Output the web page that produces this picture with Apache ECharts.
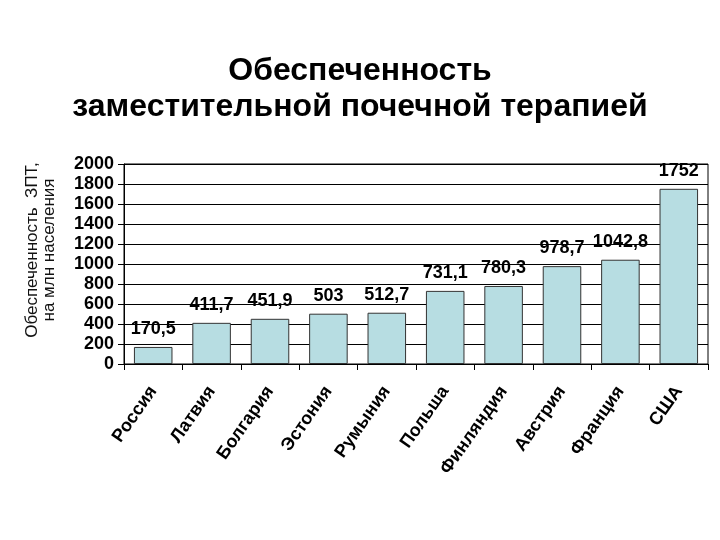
<!DOCTYPE html>
<html>
<head>
<meta charset="utf-8">
<script src="https://cdn.jsdelivr.net/npm/echarts@6/dist/echarts.min.js"></script>
<style>
	html, body { margin: 0; padding: 0; background: #fff; }
	#main { width: 720px; height: 540px; }
</style>
</head>
<body>
<div id="main"></div>
<script>
var countries = ['Россия', 'Латвия', 'Болгария', 'Эстония', 'Румыния', 'Польша', 'Финляндия', 'Австрия', 'Франция', 'США'];
var values = [170.5, 411.7, 451.9, 503, 512.7, 731.1, 780.3, 978.7, 1042.8, 1752];
var labels = ['170,5', '411,7', '451,9', '503', '512,7', '731,1', '780,3', '978,7', '1042,8', '1752'];

window.onload = function () {
	var myChart = echarts.init(document.getElementById('main'));

	var option = {
		backgroundColor: '#fff',
		title: {
			text: 'Обеспеченность\nзаместительной почечной терапией',
			left: 'center',
			top: 48,
			textStyle: {
				color: '#000',
				fontFamily: 'Liberation Sans',
				fontWeight: 'bold',
				fontSize: 32,
				lineHeight: 36
			}
		},
		grid: {
			left: 124,
			right: 12,
			top: 164,
			bottom: 176,
			show: true,
			borderColor: '#000',
			borderWidth: 1
		},
		xAxis: {
			type: 'category',
			data: countries,
			axisLine: { lineStyle: { color: '#000', width: 1 } },
			axisTick: { show: true, length: 6, lineStyle: { color: '#000' } },
			axisLabel: {
				rotate: 55,
				margin: 24,
				color: '#000',
				fontFamily: 'Liberation Sans',
				fontWeight: 'bold',
				fontSize: 18
			}
		},
		yAxis: {
			type: 'value',
			min: 0,
			max: 2000,
			interval: 200,
			name: 'Обеспеченность  ЗПТ,\nна млн населения',
			nameLocation: 'middle',
			nameRotate: 90,
			nameGap: 66,
			nameTextStyle: {
				color: '#111',
				fontFamily: 'Liberation Sans',
				fontSize: 17,
				lineHeight: 17,
				padding: [0, 0, 0, 28]
			},
			axisLine: { show: true, lineStyle: { color: '#000', width: 1 } },
			axisTick: { show: true, length: 6, lineStyle: { color: '#000' } },
			splitLine: { show: true, lineStyle: { color: '#000', width: 1 } },
			axisLabel: {
				margin: 10,
				color: '#000',
				fontFamily: 'Liberation Sans',
				fontWeight: 'bold',
				fontSize: 18,
				formatter: function (v) {
					return String(v);
				}
			}
		},
		series: [{
			type: 'bar',
			data: values,
			barWidth: '66%',
			itemStyle: {
				color: '#b7dde2',
				borderColor: '#333',
				borderWidth: 1
			},
			label: {
				show: true,
				position: 'top',
				distance: 9,
				color: '#000',
				fontFamily: 'Liberation Sans',
				fontWeight: 'bold',
				fontSize: 18,
				formatter: function (p) {
					return labels[p.dataIndex];
				}
			}
		}]
	};

	myChart.setOption(option);
};
</script>
</body>
</html>
